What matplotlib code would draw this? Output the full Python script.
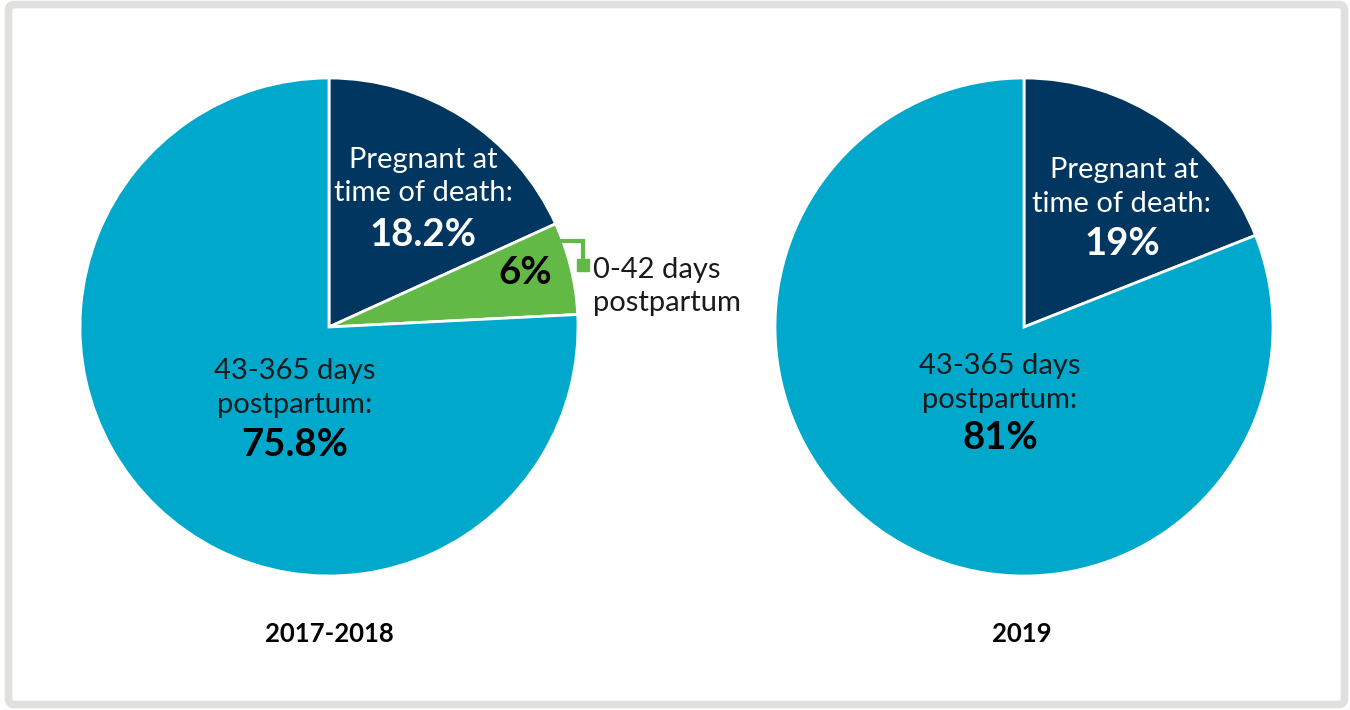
import matplotlib.pyplot as plt
from matplotlib.patches import FancyBboxPatch

plt.rcParams['font.family'] = ['Lato', 'DejaVu Sans']

# data
periods = ["2017-2018", "2019"]
labels_1718 = ["Pregnant at time of death", "0-42 days postpartum", "43-365 days postpartum"]
values_1718 = [18.2, 6.0, 75.8]
labels_2019 = ["Pregnant at time of death", "43-365 days postpartum"]
values_2019 = [19, 81]
colors_1718 = ["#003660", "#62b946", "#00a9cc"]
colors_2019 = ["#003660", "#00a9cc"]

W, H = 1350, 710
fig = plt.figure(figsize=(W / 100, H / 100), dpi=100)
ax = fig.add_axes([0, 0, 1, 1])

R = 249
c1 = (329, H - 327)
c2 = (1024, H - 327)

ax.pie(values_1718, colors=colors_1718, startangle=90, counterclock=False,
       center=c1, radius=R, frame=True,
       wedgeprops=dict(edgecolor="white", linewidth=2))
ax.pie(values_2019, colors=colors_2019, startangle=90, counterclock=False,
       center=c2, radius=R, frame=True,
       wedgeprops=dict(edgecolor="white", linewidth=2))
ax.set_xlim(0, W)
ax.set_ylim(0, H)
ax.set_aspect("equal")
ax.axis("off")

# grey frame
frame = FancyBboxPatch((8.5, 5.5), 1336, 700, boxstyle="round,pad=0,rounding_size=6",
                       fill=False, ec="#e0e1df", lw=5.5)
ax.add_patch(frame)

light = dict(fontsize=21, fontweight="normal", ha="center", va="center")
bold = dict(fontsize=27.5, fontweight="bold", ha="center", va="center")
dark = "#1a1a1a"


def y(p):
    return H - p


# 2017-2018 labels
ax.text(423, y(160), "Pregnant at", color="white", **light)
ax.text(423, y(193), "time of death:", color="white", **light)
ax.text(423, y(235), f"{values_1718[0]}%", color="white", **bold)
ax.text(525, y(273), f"{values_1718[1]:.0f}%", color="black", **bold)
ax.text(295, y(371), "43-365 days", color=dark, **light)
ax.text(295, y(405), "postpartum:", color=dark, **light)
ax.text(295, y(445), f"{values_1718[2]}%", color="black", **bold)

# leader for the small slice
ax.plot([562, 583, 583], [y(241), y(241), y(262)], color="#62b946", lw=3,
        solid_joinstyle="miter")
ax.plot([583], [y(265)], marker="s", ms=9, color="#62b946")
ax.text(593, y(270), "0-42 days", color=dark, fontsize=21, fontweight="normal",
        ha="left", va="center")
ax.text(593, y(303), "postpartum", color=dark, fontsize=21, fontweight="normal",
        ha="left", va="center")

# 2019 labels
ax.text(1124, y(170), "Pregnant at", color="white", **light)
ax.text(1122, y(204), "time of death:", color="white", **light)
ax.text(1122, y(244), f"{values_2019[0]}%", color="white", **bold)
ax.text(1000, y(366), "43-365 days", color=dark, **light)
ax.text(1000, y(400), "postpartum:", color=dark, **light)
ax.text(1000, y(438), f"{values_2019[1]}%", color="black", **bold)

# period captions
ax.text(329, y(634), periods[0], fontsize=18.5, fontweight="bold", ha="center", va="center")
ax.text(1022, y(634), periods[1], fontsize=18.5, fontweight="bold", ha="center", va="center")

fig.savefig("out.png", dpi=100, facecolor="white")
